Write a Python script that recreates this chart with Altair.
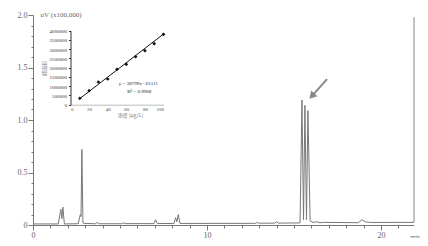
import altair as alt
import pandas as pd

# ---- main chromatogram (time in min, signal in uV x100,000) ----
trace_time = [0, 0.8, 1.45, 1.6, 1.66, 1.72, 1.8, 2.6, 2.72, 2.76, 2.81, 2.87, 2.95,
              3.6, 3.7, 3.8, 5.1, 5.2, 5.3, 6.95, 7.05, 7.15, 8.1, 8.2, 8.27, 8.35, 8.45,
              12.8, 12.9, 13.0, 13.9, 14.0, 14.1, 15.35, 15.46, 15.55, 15.63, 15.72, 15.8,
              15.93, 16.1, 16.3, 16.5, 16.7, 18.7, 18.9, 19.1, 19.4, 21.9]
trace_signal = [0.01, 0.01, 0.01, 0.15, 0.06, 0.17, 0.01, 0.012, 0.1, 0.08, 0.72, 0.02, 0.015,
                0.012, 0.025, 0.012, 0.012, 0.02, 0.013, 0.013, 0.05, 0.014, 0.014, 0.07, 0.03, 0.1, 0.015,
                0.016, 0.025, 0.017, 0.018, 0.03, 0.018, 0.02, 1.19, 0.05, 1.14, 0.05, 1.09,
                0.04, 0.025, 0.03, 0.022, 0.025, 0.022, 0.05, 0.03, 0.024, 0.025]

x_ticks = [0, 1, 2, 3, 4, 5, 6, 7, 8, 9, 10, 11, 12, 13, 14, 15, 16, 17, 18, 19, 20, 21]
y_ticks = [0, 0.1, 0.2, 0.3, 0.4, 0.5, 0.6, 0.7, 0.8, 0.9, 1.0, 1.1, 1.2, 1.3, 1.4, 1.5,
           1.6, 1.7, 1.8, 1.9, 2.0]

frame_time = [21.9, 21.9]
frame_signal = [0.025, 1.98]

arrow_time = [16.9, 16.08]
arrow_signal = [1.39, 1.237]
arrow_head_time = [16.03]
arrow_head_signal = [1.228]

# ---- inset calibration curve ----
conc = [10, 20, 30, 40, 50, 60, 70, 80, 90, 100]
area = [346000, 757000, 1227000, 1389000, 1914000, 2184000, 2595000, 2919000, 3297000, 3805000]
fit_conc = [10, 100]
fit_area = [330000, 3820000]
inset_x_ticks = [0, 20, 40, 60, 80, 100]
inset_y_ticks = [0, 500000, 1000000, 1500000, 2000000, 2500000, 3000000, 3500000, 4000000]
equation = "y = 38799x - 61111"
r_squared = "R² = 0.9968"

W, H = 381, 210
FONT = "Liberation Serif"
GREY = "#666666"

x_scale = alt.Scale(domain=[0, 21.9], nice=False, zero=False)
y_scale = alt.Scale(domain=[0, 2.0], nice=False)

x_axis = alt.Axis(values=x_ticks, title="min", labelExpr="datum.value % 10 == 0 ? datum.value : ''",
                  labelOverlap=False, labelFlush=False,
                  tickSize={"condition": {"test": "datum.value % 10 == 0", "value": 5}, "value": 3},
                  labelFont=FONT, labelFontSize=8, labelColor=GREY, labelPadding=1,
                  domainColor="#777777", tickColor="#777777", grid=False,
                  titleFont=FONT, titleFontSize=6, titleColor=GREY, titleFontWeight="normal",
                  titleX=377, titleY=11, titleAnchor="start", titleAlign="left", titleBaseline="middle")
y_axis = alt.Axis(values=y_ticks, title="uV (x100,000)",
                  labelExpr="abs(datum.value*2 - round(datum.value*2)) < 0.001 ? (datum.value == 0 ? '0' : format(datum.value, '.1f')) : ''",
                  labelOverlap=False, labelFlush=False,
                  tickSize={"condition": {"test": "abs(datum.value*2 - round(datum.value*2)) < 0.001", "value": 5}, "value": 2},
                  labelFont=FONT, labelFontSize=8, labelColor=GREY, labelPadding=1,
                  domainColor="#777777", tickColor="#777777", grid=False,
                  titleFont=FONT, titleFontSize=7, titleColor=GREY, titleFontWeight="normal",
                  titleAngle=0, titleX=7, titleY=-1, titleAlign="left", titleBaseline="middle")

trace = alt.Chart(pd.DataFrame({"t": trace_time, "v": trace_signal})).mark_line(
    color="#777777", strokeWidth=1).encode(order=alt.Order("t:Q"))
frame = alt.Chart(pd.DataFrame({"t": frame_time, "v": frame_signal})).mark_line(
    color="#888888", strokeWidth=1)
arrow = alt.Chart(pd.DataFrame({"t": arrow_time, "v": arrow_signal})).mark_line(
    color="#888888", strokeWidth=2)
head = alt.Chart(pd.DataFrame({"t": arrow_head_time, "v": arrow_head_signal})).mark_point(
    shape="triangle-up", filled=True, color="#888888", size=70, angle=222, opacity=1)

main = alt.layer(trace, frame, arrow, head).encode(
    x=alt.X("t:Q", scale=x_scale, axis=x_axis),
    y=alt.Y("v:Q", scale=y_scale, axis=y_axis),
)

# inset scales positioned within the plot area
ix_scale = alt.Scale(domain=[0, 100], range=[37.5, 130.5], nice=False)
iy_scale = alt.Scale(domain=[0, 4000000], range=[89.7, 15.7], nice=False)
IFONT = "Liberation Serif"
ix_axis = alt.Axis(orient="bottom", offset=-(H - 89.7), values=inset_x_ticks, title="浓度 (μg/L)",
                   labelFont=IFONT, labelFontSize=5, labelColor="#444444", labelPadding=2,
                   labelOverlap=False, tickSize=0, domainColor="#bbbbbb", grid=False,
                   titleFont="Noto Sans CJK SC", titleFontSize=5, titleColor="#777777",
                   titleFontWeight="normal", titlePadding=1, titleX=97)
iy_axis = alt.Axis(orient="left", offset=-37.5, values=inset_y_ticks, format="d", title="峰面积",
                   labelFont=IFONT, labelFontSize=5, labelColor="#333333", labelPadding=2,
                   labelOverlap=False, tickSize=2, tickColor="#333333", domainColor="#333333", grid=False,
                   titleFont="Noto Sans CJK SC", titleFontSize=5, titleColor="#888888",
                   titleFontWeight="normal", titlePadding=3)

pts = alt.Chart(pd.DataFrame({"c": conc, "a": area})).mark_point(
    shape="diamond", filled=True, color="#111111", size=14, opacity=1)
fit = alt.Chart(pd.DataFrame({"c": fit_conc, "a": fit_area})).mark_line(
    color="#111111", strokeWidth=1)
eq = alt.Chart(pd.DataFrame({"c": [52], "a": [1150000], "s": [equation]})).mark_text(
    font=IFONT, fontSize=5, color="#222222", align="left").encode(text="s:N")
r2 = alt.Chart(pd.DataFrame({"c": [61], "a": [760000], "s": [r_squared]})).mark_text(
    font=IFONT, fontSize=5, color="#222222", align="left").encode(text="s:N")

inset = alt.layer(pts, fit, eq, r2).encode(
    x=alt.X("c:Q", scale=ix_scale, axis=ix_axis),
    y=alt.Y("a:Q", scale=iy_scale, axis=iy_axis),
)

chart = alt.layer(main, inset).resolve_scale(x="independent", y="independent").properties(
    width=W, height=H, autosize=alt.AutoSizeParams(type="none"),
    padding={"left": 25, "top": 7, "right": 6, "bottom": 13},
    background="white",
).configure_view(stroke=None)

chart.save("out.html", embed_options={"renderer": "svg", "actions": False})
